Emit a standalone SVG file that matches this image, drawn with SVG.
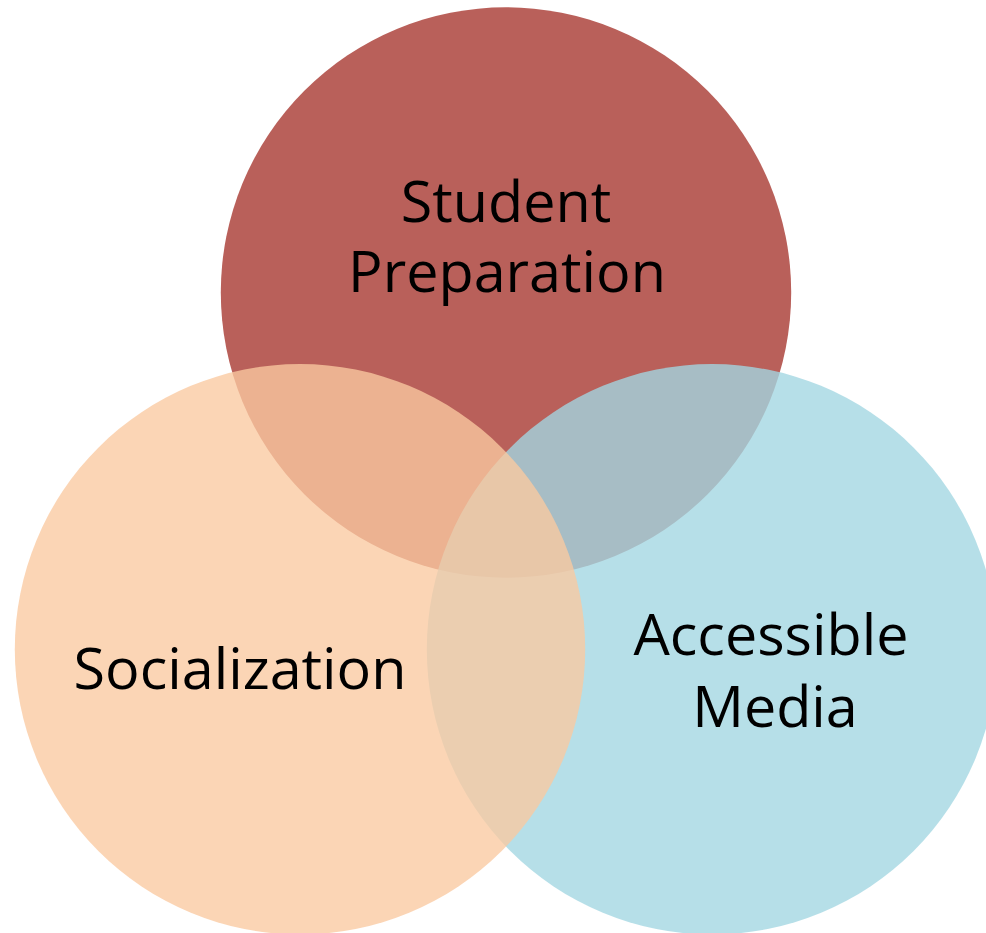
<svg xmlns="http://www.w3.org/2000/svg" width="986" height="933" viewBox="0 0 986 933">
<style>
.lbl{font-family:"Open Sans","Liberation Sans",sans-serif;font-size:57.5px;fill:#000;text-anchor:middle}
</style>
<rect x="0" y="0" width="986" height="933" fill="#fff"/>
<g id="student-preparation">
<circle cx="506" cy="292.5" r="285.2" fill="#B9605A"/>
</g>
<g id="accessible-media">
<circle cx="712" cy="649.3" r="285.2" fill="#A2D6E2" fill-opacity="0.79"/>
</g>
<g id="socialization">
<circle cx="300" cy="649.3" r="285.2" fill="#FAC9A0" fill-opacity="0.78"/>
</g>
<g id="connectors"></g>
<g id="labels">
<text class="lbl" x="506" y="222">Student</text>
<text class="lbl" x="507" y="292">Preparation</text>
<text class="lbl" x="240" y="689">Socialization</text>
<text class="lbl" x="771" y="655">Accessible</text>
<text class="lbl" x="775" y="727">Media</text>
</g>
</svg>
